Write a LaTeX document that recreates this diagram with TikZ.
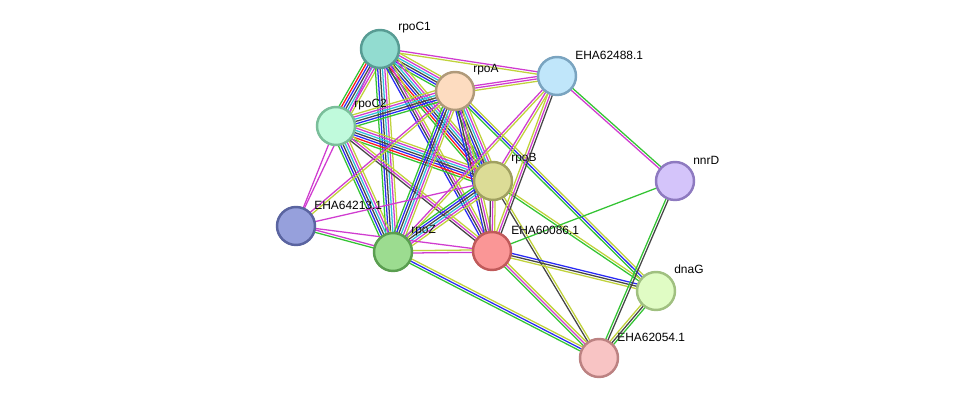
\documentclass[tikz,border=0pt]{standalone}
\usepackage{fontspec}
\setmainfont{Liberation Sans}
\usepackage[outline]{contour}
\contourlength{0.6pt}
\usetikzlibrary{calc}
\pgfdeclarelayer{back}
\pgfdeclarelayer{bg}
\pgfsetlayers{back,bg,main}
\definecolor{egreen}{HTML}{33C433}
\definecolor{ered}{HTML}{FF1A1A}
\definecolor{eblue}{HTML}{2A2AF5}
\definecolor{eblack}{HTML}{464646}
\definecolor{ecyan}{HTML}{30C0DC}
\definecolor{emag}{HTML}{D03CD0}
\definecolor{eyel}{HTML}{C0D23A}
\tikzset{
  prot/.style={circle, minimum size=0.76cm, inner sep=0pt, line width=1.4pt},
  lab/.style={anchor=west, inner sep=0pt, font=\fontsize{6.8}{8}\selectfont},
  edgeline/.style={line width=0.72pt},
}
\newcommand\edge[3]{%
  \gdef\nn{0}%
  \foreach \c in {#3}{\xdef\nn{\the\numexpr\nn+1\relax}}%
  \foreach \c [count=\i] in {#3}{%
    \pgfmathsetmacro\off{(\i-(\nn+1)/2)*1.35}%
    \draw[edgeline,\c] ($(#1.center)!\off pt!90:(#2.center)$) -- ($(#2.center)!\off pt!-90:(#1.center)$);
  }%
}
\newcommand\lbl[1]{\contour{white}{#1}}
\begin{document}
\begin{tikzpicture}[x=0.02cm,y=-0.02cm]
\useasboundingbox (0,0) rectangle (975,404);
\begin{pgfonlayer}{back}
\fill[white] (0,0) rectangle (975,404);
\end{pgfonlayer}
% nodes
\node[prot, fill={rgb,255:red,146;green,220;blue,208}, draw={rgb,255:red,88;green,156;blue,148}] (C1) at (380,49) {};
\node[prot, fill={rgb,255:red,253;green,220;blue,192}, draw={rgb,255:red,176;green,154;blue,122}] (A) at (455,91) {};
\node[prot, fill={rgb,255:red,192;green,230;blue,250}, draw={rgb,255:red,122;green,164;blue,192}] (E488) at (557,76) {};
\node[prot, fill={rgb,255:red,192;green,250;blue,220}, draw={rgb,255:red,122;green,190;blue,154}] (C2) at (336,126) {};
\node[prot, fill={rgb,255:red,220;green,220;blue,150}, draw={rgb,255:red,160;green,160;blue,96}] (B) at (493,181) {};
\node[prot, fill={rgb,255:red,212;green,196;blue,250}, draw={rgb,255:red,142;green,122;blue,192}] (nnrD) at (675,181) {};
\node[prot, fill={rgb,255:red,150;green,160;blue,220}, draw={rgb,255:red,90;green,100;blue,160}] (E213) at (296,226) {};
\node[prot, fill={rgb,255:red,156;green,220;blue,144}, draw={rgb,255:red,90;green,158;blue,80}] (Z) at (393,252) {};
\node[prot, fill={rgb,255:red,250;green,150;blue,150}, draw={rgb,255:red,192;green,90;blue,90}] (E086) at (492,251) {};
\node[prot, fill={rgb,255:red,224;green,252;blue,196}, draw={rgb,255:red,160;green,192;blue,128}] (dnaG) at (656,291) {};
\node[prot, fill={rgb,255:red,248;green,196;blue,196}, draw={rgb,255:red,188;green,130;blue,130}] (E054) at (599,358) {};
% labels
\node[lab] (lC1) at (398,28) {\lbl{rpoC1}};
\node[lab] (lA) at (473,70) {\lbl{rpoA}};
\node[lab] (lE488) at (575,55) {\lbl{EHA62488.1}};
\node[lab] (lC2) at (354,105) {\lbl{rpoC2}};
\node[lab] (lB) at (511,159) {\lbl{rpoB}};
\node[lab] (lnnrD) at (693,160) {\lbl{nnrD}};
\node[lab] (lE213) at (314,205) {\lbl{EHA64213.1}};
\node[lab] (lZ) at (411,231) {\lbl{rpoZ}};
\node[lab] (lE086) at (511,230) {\lbl{EHA60086.1}};
\node[lab] (ldnaG) at (674,269) {\lbl{dnaG}};
\node[lab] (lE054) at (617,337) {\lbl{EHA62054.1}};
% edges
\begin{pgfonlayer}{bg}
\edge{C1}{C2}{egreen,ered,eblue,eblack,ecyan,emag,eyel}
\edge{C1}{A}{egreen,eblue,eblack,ecyan,emag,eyel}
\edge{C1}{B}{egreen,ered,eblue,eblack,ecyan,emag,eyel}
\edge{C1}{Z}{egreen,eblue,eblack,ecyan,emag,eyel}
\edge{C1}{E086}{eblue,eblack,emag,eyel}
\edge{C1}{E488}{eyel,emag}
\edge{C2}{A}{egreen,eblue,eblack,ecyan,emag,eyel}
\edge{C2}{B}{egreen,ered,eblue,eblack,ecyan,emag,eyel}
\edge{C2}{Z}{egreen,eblue,eblack,ecyan,emag,eyel}
\edge{C2}{E086}{eblack,emag,eyel}
\edge{C2}{E213}{emag}
\edge{C1}{E213}{emag}
\edge{A}{B}{egreen,eblue,eblack,ecyan,emag,eyel}
\edge{A}{Z}{egreen,eblue,eblack,ecyan,emag,eyel}
\edge{A}{E086}{eblue,eblack,emag,eyel}
\edge{A}{E488}{eyel,emag,emag}
\edge{A}{dnaG}{egreen,eblue,eyel}
\edge{A}{E213}{emag,eyel}
\edge{B}{Z}{egreen,eblue,eblack,ecyan,emag,eyel}
\edge{B}{E086}{eblack,emag,eyel}
\edge{B}{E488}{eyel,emag}
\edge{B}{dnaG}{egreen,eyel}
\edge{B}{E054}{eblack,eyel}
\edge{B}{E213}{emag}
\edge{Z}{E086}{emag,eyel}
\edge{Z}{E213}{emag,egreen}
\edge{Z}{E054}{egreen,eblue,eyel}
\edge{Z}{E488}{eyel,emag}
\edge{E086}{E213}{emag}
\edge{E086}{nnrD}{egreen}
\edge{E086}{dnaG}{eyel,eblack,eblue}
\edge{E086}{E054}{egreen,emag,eyel}
\edge{E086}{E488}{eblack,emag,eyel}
\edge{E488}{nnrD}{emag,egreen}
\edge{nnrD}{E054}{egreen,eblack}
\edge{dnaG}{E054}{eyel,eblack,egreen}
\end{pgfonlayer}
\end{tikzpicture}
\end{document}
